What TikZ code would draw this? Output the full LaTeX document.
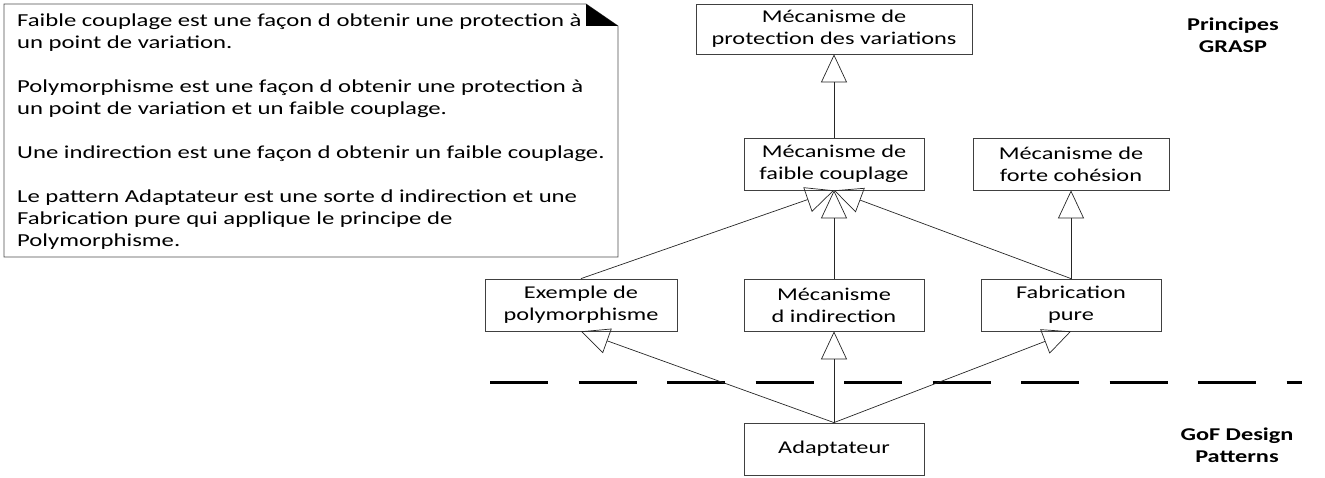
\documentclass[tikz,border=0pt]{standalone}
\usepackage{fontspec}
\setmainfont{Carlito}[FakeStretch=1.35]
\usetikzlibrary{arrows.meta}
\begin{document}
\begin{tikzpicture}[x=1pt,y=-1pt,
  font=\fontsize{18}{22}\selectfont,
  box/.style={draw=black!75, line width=0.8pt, align=center, inner sep=0pt, minimum height=52pt},
  gen/.style={-{Triangle[open,length=28pt,width=26pt]}, line width=0.7pt, draw=black!85},
  notetext/.style={anchor=base west, inner sep=0pt, font=\fontsize{18.3}{22}\selectfont},
  lbl/.style={font=\fontsize{18}{22}\selectfont\bfseries, align=center, inner sep=0pt}
]
\useasboundingbox (0,0) rectangle (1325,478);

% note
\draw[draw=black!70, line width=0.8pt] (4,4) -- (586,4) -- (618,26) -- (618,257) -- (4,257) -- cycle;
\fill[black] (586,4) -- (586,26) -- (618,26) -- cycle;
\node[notetext] (n1) at (17,27) {Faible couplage est une façon d obtenir une protection à};
\node[notetext] (n2) at (17,49) {un point de variation.};
\node[notetext] (n3) at (17,93) {Polymorphisme est une façon d obtenir une protection à};
\node[notetext] (n4) at (17,115) {un point de variation et un faible couplage.};
\node[notetext] (n5) at (17,159) {Une indirection est une façon d obtenir un faible couplage.};
\node[notetext] (n6) at (17,203) {Le pattern Adaptateur est une sorte d indirection et une};
\node[notetext] (n7) at (17,225) {Fabrication pure qui applique le principe de};
\node[notetext] (n8) at (17,247) {Polymorphisme.};

% boxes
\node[box, minimum width=276pt, minimum height=50pt] (top) at (834,29) {Mécanisme de\\protection des variations};
\node[box, minimum width=180pt] (faible) at (834,164) {Mécanisme de\\faible couplage};
\node[box, minimum width=196pt] (forte) at (1071,164) {Mécanisme de\\forte cohésion};
\node[box, minimum width=192pt] (exemple) at (581,305) {Exemple de\\polymorphisme};
\node[box, minimum width=180pt] (indir) at (834,305) {Mécanisme\\d indirection};
\node[box, minimum width=180pt] (fabr) at (1071,305) {Fabrication\\pure};
\node[box, minimum width=180pt] (adapt) at (834,449) {Adaptateur};

% labels
\node[lbl] (grasp) at (1233,35) {Principes\\GRASP};
\node[lbl] (gof) at (1237,445) {GoF Design\\Patterns};

% dashed separator
\coordinate (dl) at (490,382);
\coordinate (dr) at (1302,382);
\draw[line width=3pt, dash pattern=on 58pt off 30.5pt] (dl) -- (dr);

% generalisations
\draw[gen] (faible.north) -- (top.south);
\draw[gen] (exemple.north) -- (faible.south);
\draw[gen] (indir.north) -- (faible.south);
\draw[gen] (fabr.north) -- (faible.south);
\draw[gen] (fabr.north) -- (forte.south);
\draw[gen] (adapt.north) -- (exemple.south);
\draw[gen] (adapt.north) -- (indir.south);
\draw[gen] (adapt.north) -- (fabr.south);
\end{tikzpicture}
\end{document}
